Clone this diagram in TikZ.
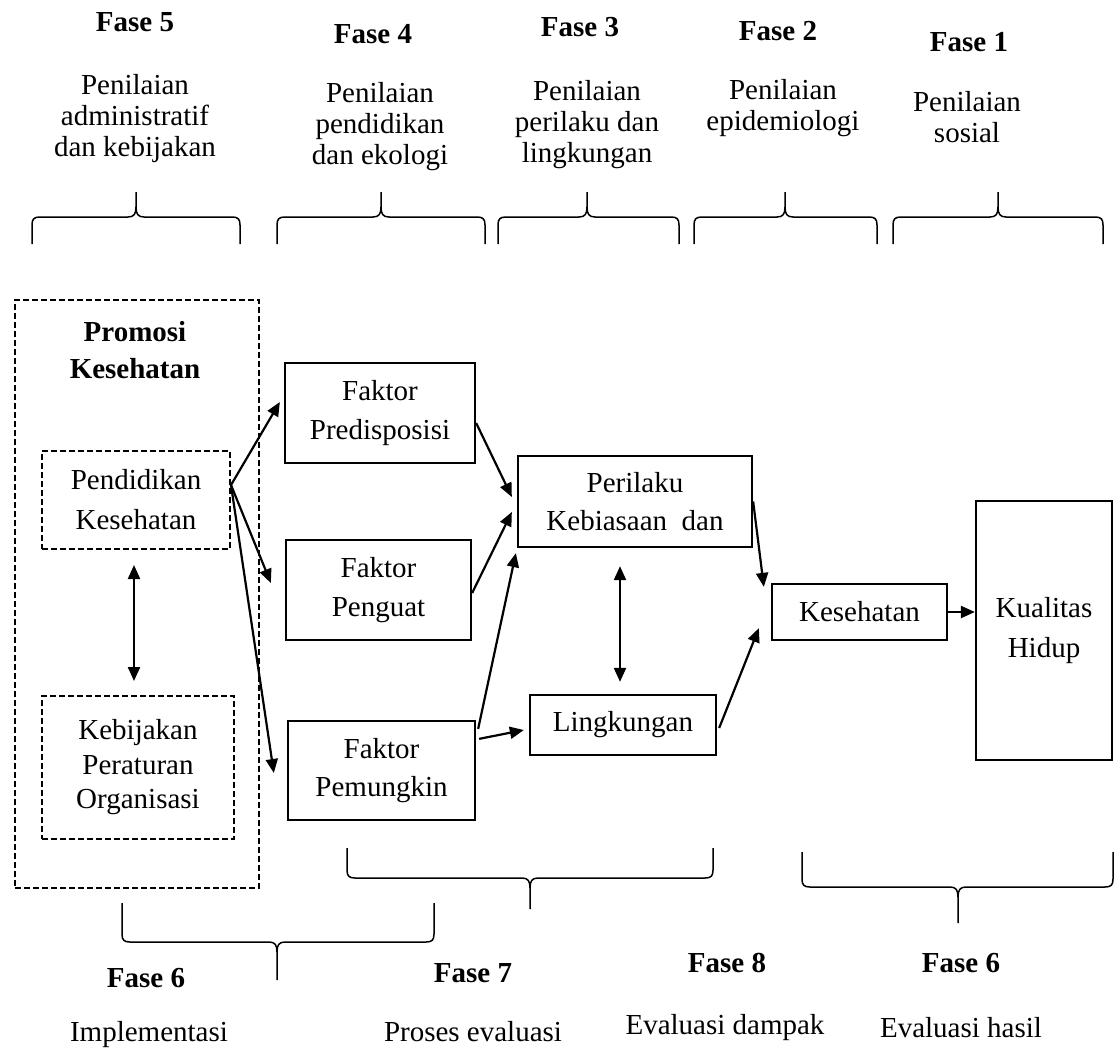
\documentclass[tikz,border=0pt]{standalone}
\usepackage{fontspec}
\setmainfont{Liberation Serif}
\usetikzlibrary{arrows.meta,calc}
\newcommand{\upbr}[6]{% x1,x2,xt,yt,ym,yb
\draw[brc] (#1,#6) -- (#1,#5+8) .. controls (#1,#5+2) and (#1+2,#5) .. (#1+8,#5) -- (#3-8,#5) .. controls (#3-2,#5) and (#3,#5-3) .. (#3,#5-10) -- (#3,#4);
\draw[brc] (#3,#5-10) .. controls (#3,#5-3) and (#3+2,#5) .. (#3+8,#5) -- (#2-8,#5) .. controls (#2-2,#5) and (#2,#5+2) .. (#2,#5+8) -- (#2,#6);}
\newcommand{\dnbr}[6]{% x1,x2,xt,yt,ym,yb
\draw[brc] (#1,#6) -- (#1,#5-8) .. controls (#1,#5-2) and (#1+2,#5) .. (#1+8,#5) -- (#3-8,#5) .. controls (#3-2,#5) and (#3,#5+3) .. (#3,#5+10) -- (#3,#4);
\draw[brc] (#3,#5+10) .. controls (#3,#5+3) and (#3+2,#5) .. (#3+8,#5) -- (#2-8,#5) .. controls (#2-2,#5) and (#2,#5-2) .. (#2,#5-8) -- (#2,#6);}
\begin{document}
\begin{tikzpicture}[x=1pt,y=-1pt,
  box/.style={draw, line width=2.3pt, inner sep=0pt, align=center, font=\fontsize{29}{39}\selectfont},
  dbox/.style={draw, line width=2pt, dash pattern=on 6pt off 3pt, inner sep=0pt, align=center, font=\fontsize{29}{40}\selectfont},
  lbl/.style={align=center, inner sep=0pt, font=\fontsize{29}{31}\selectfont},
  fase/.style={inner sep=0pt, font=\fontsize{29}{31}\selectfont\bfseries},
  arr/.style={line width=2.2pt, -{Triangle[length=14pt,width=12pt]}},
  darr/.style={line width=2.2pt, {Triangle[length=14pt,width=12pt]}-{Triangle[length=14pt,width=12pt]}},
  brc/.style={line width=1.5pt}]
\useasboundingbox (0,0) rectangle (1115,1052);
\fill[white] (0,0) rectangle (1115,1052);

% top phase labels
\node[fase] (f5) at (135,22) {Fase 5};
\node[lbl] (l5) at (135,119) {Penilaian\\administratif\\dan kebijakan};
\node[fase] (f4) at (373,34) {Fase 4};
\node[lbl] (l4) at (380,127) {Penilaian\\pendidikan\\dan ekologi};
\node[fase] (f3) at (580,27) {Fase 3};
\node[lbl] (l3) at (587,125) {Penilaian\\perilaku dan\\lingkungan};
\node[fase] (f2) at (778,31) {Fase 2};
\node[lbl] (l2) at (783,108) {Penilaian\\epidemiologi};
\node[fase] (f1) at (969,42) {Fase 1};
\node[lbl] (l1) at (967,117) {Penilaian\\sosial};

% top braces
\upbr{32}{240}{136}{192}{217}{244}
\upbr{277}{485}{381}{192}{217}{244}
\upbr{498}{679}{587}{192}{217}{244}
\upbr{694}{877}{785}{192}{217}{244}
\upbr{893}{1103}{998}{192}{217}{244}

% promotion block
\node[dbox, minimum width=244, minimum height=588] (promo) at (137,594) {};
\node[fase, align=center, font=\fontsize{29}{37}\selectfont\bfseries] (ptitle) at (135,350) {Promosi\\Kesehatan};
\node[dbox, minimum width=188, minimum height=98] (pend) at (136,500) {Pendidikan\\Kesehatan};
\node[dbox, minimum width=192, minimum height=143, font=\fontsize{29}{34.5}\selectfont] (kebij) at (138,767.5) {Kebijakan\\Peraturan\\Organisasi};

% factor boxes
\node[box, minimum width=190, minimum height=100] (pre) at (380,413) {Faktor\\Predisposisi};
\node[box, minimum width=185, minimum height=100] (peng) at (378.5,590) {Faktor\\Penguat};
\node[box, minimum width=187, minimum height=99, font=\fontsize{29}{38}\selectfont] (pem) at (381.5,770.5) {Faktor\\Pemungkin};
\node[box, minimum width=234, minimum height=91, font=\fontsize{29}{38}\selectfont] (per) at (635,501.5) {Perilaku\\Kebiasaan~ dan};
\node[box, minimum width=186, minimum height=60] (ling) at (623,725) {Lingkungan};
\node[box, minimum width=175, minimum height=56] (kes) at (859.5,612) {Kesehatan};
\node[box, minimum width=136, minimum height=259, font=\fontsize{29}{40}\selectfont] (kual) at (1044,630.5) {Kualitas\\Hidup};

% arrows
\draw[arr] ($(pend.east)+(0,-15)$) -- ($(pre.west)+(-4,-11)$);
\draw[arr] ($(pend.east)+(0,-15)$) -- ($(peng.west)+(-14,-7)$);
\draw[arr] ($(pend.east)+(0,-15)$) -- ($(pem.west)+(-13,2.5)$);
\draw[darr] ($(pend.south)+(-2,15)$) -- ($(kebij.north)+(-4,-14)$);
\draw[arr] ($(pre.east)+(0,10)$) -- ($(per.west)+(-5,-4.5)$);
\draw[arr] ($(peng.east)+(0,3)$) -- ($(per.west)+(-5,10.5)$);
\draw[arr] ($(pem.north east)+(2,9)$) -- ($(per.south west)+(-1,5)$);
\draw[arr] ($(pem.north east)+(3,19)$) -- ($(ling.west)+(-5,5)$);
\draw[darr] ($(per.south)+(-15,18)$) -- ($(ling.north)+(-3,-12)$);
\draw[arr] (per.east) -- ($(kes.north west)+(-7,4)$);
\draw[arr] ($(ling.east)+(2,3)$) -- ($(kes.south west)+(-12,-13)$);
\draw[arr] (kes.east) -- (kes.east -| kual.west);

% bottom braces
\dnbr{122}{434}{277}{980}{942}{903}
\dnbr{347}{713}{530}{909}{878}{848}
\dnbr{802}{1113}{958}{923}{887}{852}

% bottom labels
\node[fase] (f6a) at (146,978) {Fase 6};
\node[fase] (f7) at (473,973) {Fase 7};
\node[fase] (f8) at (727,963) {Fase 8};
\node[fase] (f6b) at (961,963) {Fase 6};
\node[lbl] (l6a) at (149,1035) {Implementasi};
\node[lbl] (l7) at (473,1032) {Proses evaluasi};
\node[lbl] (l8) at (725,1028) {Evaluasi dampak};
\node[lbl] (l6b) at (961,1028) {Evaluasi hasil};
\end{tikzpicture}
\end{document}
